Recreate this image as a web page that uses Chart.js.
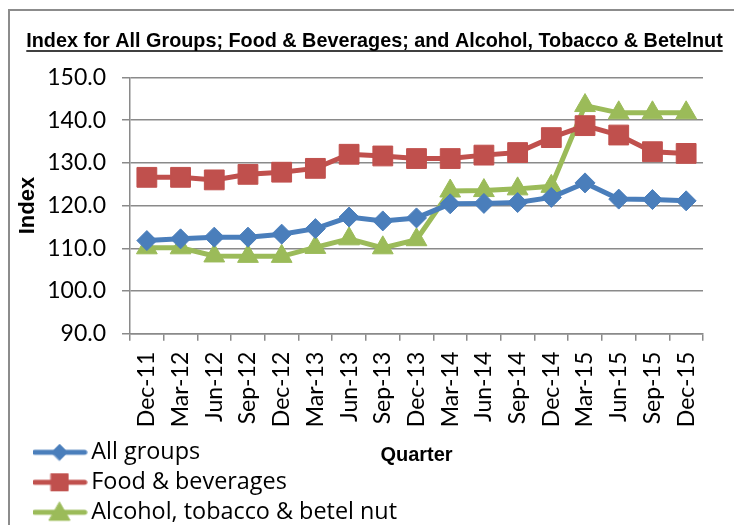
<!DOCTYPE html>
<html>
<head>
<meta charset="utf-8">
<script src="https://cdn.jsdelivr.net/npm/chart.js@4.4.1/dist/chart.umd.min.js"></script>
<style>
  html, body { margin: 0; padding: 0; background: #fff; }
  #wrap { width: 734px; height: 525px; position: relative; }
</style>
</head>
<body>
<div id="wrap"><canvas id="cpiChart" width="734" height="525"></canvas></div>
<script>
// quarters on the x axis
const quarters = ['Dec-11', 'Mar-12', 'Jun-12', 'Sep-12', 'Dec-12', 'Mar-13', 'Jun-13', 'Sep-13', 'Dec-13',
                  'Mar-14', 'Jun-14', 'Sep-14', 'Dec-14', 'Mar-15', 'Jun-15', 'Sep-15', 'Dec-15'];

// index values
const allGroups = [111.8, 112.2, 112.6, 112.6, 113.3, 114.6, 117.3, 116.4, 117.1,
                   120.4, 120.5, 120.7, 121.9, 125.3, 121.5, 121.4, 121.1];
const foodBeverages = [126.6, 126.6, 126.0, 127.3, 127.8, 128.7, 132.0, 131.6, 131.0,
                       131.0, 131.8, 132.4, 135.9, 138.7, 136.5, 132.6, 132.2];
const alcoholTobacco = [110.1, 110.1, 108.2, 108.1, 108.1, 110.2, 112.2, 110.1, 112.0,
                        123.4, 123.5, 123.9, 124.5, 143.4, 141.7, 141.7, 141.7];

// y axis ticks
const yMin = 90;
const yMax = 150;
const yStep = 10;

const titleText = 'Index for All Groups; Food & Beverages; and Alcohol, Tobacco & Betelnut';
const narrowFamily = "'Liberation Sans Narrow', 'Arial Narrow', 'Liberation Sans', sans-serif";
const titleFont = { family: narrowFamily, size: 19.8, weight: 'bold' };
const labelFamily = "Lato, 'Open Sans', sans-serif";
const legendFamily = "'Open Sans', Lato, sans-serif";
const gridGrey = '#8a8a8a';

const seriesStyle = [
    { label: 'All groups', data: allGroups, color: '#4a7ebb', point: 'rectRot', radius: 10, legendRadius: 8 },
    { label: 'Food & beverages', data: foodBeverages, color: '#c0504d', point: 'rect', radius: 14, legendRadius: 12 },
    { label: 'Alcohol, tobacco & betel nut', data: alcoholTobacco, color: '#9bbb59', point: 'triangle', radius: 12, legendRadius: 12 }
];

// small canvas icon: line with the marker in the middle, like the legend in the picture
function legendIcon(s) {
    const c = document.createElement('canvas');
    c.width = 56;
    c.height = 24;
    const g = c.getContext('2d');
    g.strokeStyle = s.color;
    g.lineWidth = 5;
    g.lineCap = 'round';
    g.beginPath();
    g.moveTo(3, 12);
    g.lineTo(53, 12);
    g.stroke();
    g.fillStyle = s.color;
    g.strokeStyle = s.color;
    g.lineWidth = 1;
    Chart.helpers.drawPoint(g, { pointStyle: s.point, radius: s.legendRadius, rotation: 0, borderWidth: 1 }, 28, s.point === 'triangle' ? 14 : 12);
    return c;
}

const icons = seriesStyle.map(legendIcon);

// outer frame, legend placement and the underline under the title
const framePlugin = {
    id: 'frame',
    beforeDraw(chart) {
        const ctx = chart.ctx;
        ctx.save();
        ctx.strokeStyle = '#8c8c8c';
        ctx.lineWidth = 2;
        ctx.strokeRect(9, 10, 760, 560);
        ctx.restore();
    },
    afterLayout(chart) {
        // move the legend under the plot, bottom left
        const lg = chart.legend;
        lg.left = 33;
        lg.top = 434;
        lg.width = 420;
        lg.height = 110;
        lg.right = lg.left + lg.width;
        lg.bottom = lg.top + lg.height;
    },
    afterDraw(chart) {
        const ctx = chart.ctx;
        const tb = chart.titleBlock;
        ctx.save();
        ctx.font = Chart.helpers.toFont(titleFont).string;
        const w = ctx.measureText(titleText).width;
        const cx = (tb.left + tb.right) / 2;
        ctx.strokeStyle = '#000';
        ctx.lineWidth = 1.5;
        ctx.beginPath();
        ctx.moveTo(cx - w / 2, 51);
        ctx.lineTo(cx + w / 2, 51);
        ctx.stroke();
        ctx.restore();
    }
};

Chart.defaults.color = '#000';
Chart.defaults.font.family = labelFamily;

new Chart(document.getElementById('cpiChart').getContext('2d'), {
    type: 'line',
    data: {
        labels: quarters,
        datasets: seriesStyle.map(s => ({
            label: s.label,
            data: s.data,
            borderColor: s.color,
            backgroundColor: s.color,
            borderWidth: 5,
            tension: 0,
            pointStyle: s.point,
            pointRadius: s.radius,
            pointHoverRadius: s.radius,
            pointBorderWidth: 1,
            pointBackgroundColor: s.color,
            pointBorderColor: s.color
        }))
    },
    options: {
        responsive: false,
        animation: false,
        layout: { padding: { top: 20, left: 15, right: 0, bottom: 0 } },
        plugins: {
            title: {
                display: true,
                text: titleText,
                font: titleFont,
                color: '#000',
                padding: { top: 10, bottom: 23.6 }
            },
            legend: {
                display: true,
                position: 'right',
                maxWidth: 31,
                align: 'start',
                labels: {
                    usePointStyle: true,
                    pointStyleWidth: 40,
                    padding: 6.6,
                    font: { family: legendFamily, size: 23.4 },
                    color: '#000',
                    generateLabels(chart) {
                        return seriesStyle.map((s, i) => ({
                            text: s.label,
                            pointStyle: icons[i],
                            fillStyle: s.color,
                            strokeStyle: s.color,
                            lineWidth: 0,
                            hidden: false,
                            datasetIndex: i,
                            fontColor: '#000'
                        }));
                    }
                }
            },
            tooltip: { enabled: false }
        },
        scales: {
            x: {
                offset: true,
                afterFit(scale) { scale.height = 191.3; },
                grid: {
                    offset: true,
                    drawOnChartArea: false,
                    drawTicks: true,
                    tickLength: 7,
                    color: gridGrey,
                    lineWidth: 1.5
                },
                border: { display: true, color: gridGrey, width: 1.5 },
                ticks: {
                    autoSkip: false,
                    minRotation: 90,
                    maxRotation: 90,
                    padding: 11,
                    font: { family: labelFamily, size: 23 }
                },
                title: {
                    display: true,
                    text: 'Quarter',
                    font: { family: narrowFamily, size: 20, weight: 'bold' },
                    padding: { top: 0, bottom: 58 }
                }
            },
            y: {
                min: yMin,
                max: yMax,
                afterFit(scale) { scale.width = 115; },
                ticks: {
                    stepSize: yStep,
                    padding: 16,
                    font: { family: labelFamily, size: 23 },
                    callback: v => Number(v).toFixed(1)
                },
                grid: {
                    color: gridGrey,
                    lineWidth: 1.5,
                    tickLength: 8
                },
                border: { display: true, color: gridGrey, width: 1.5 },
                title: {
                    display: true,
                    text: 'Index',
                    font: { family: narrowFamily, size: 22, weight: 'bold' },
                    padding: { top: 0, bottom: 0 }
                }
            }
        }
    },
    plugins: [framePlugin]
});
</script>
</body>
</html>
